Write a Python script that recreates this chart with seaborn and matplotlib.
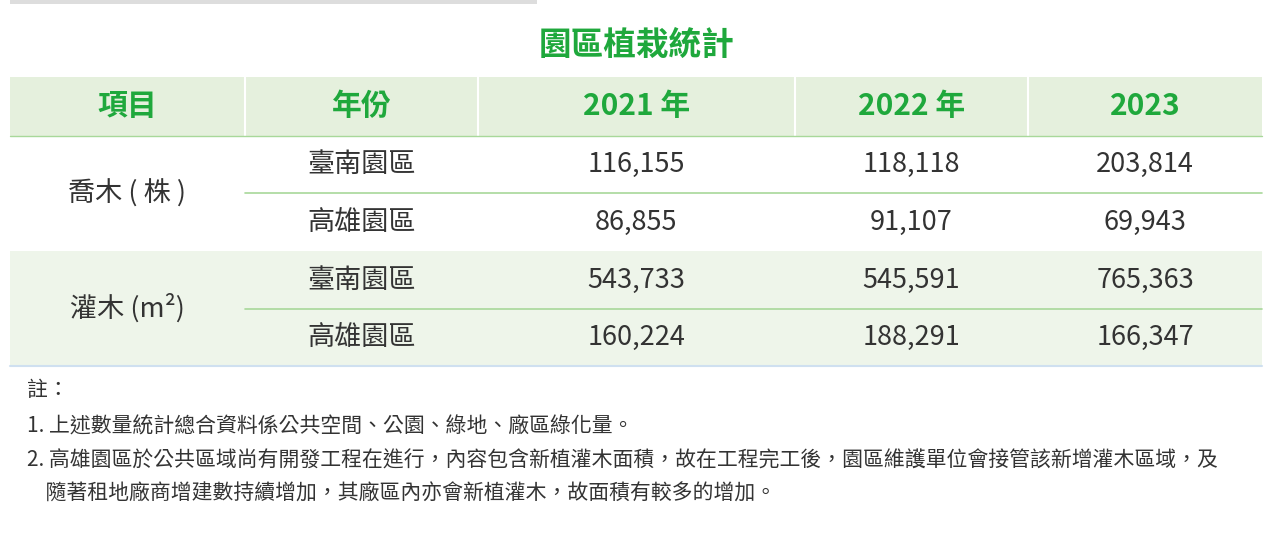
import matplotlib.pyplot as plt
import seaborn as sns
from matplotlib.patches import Rectangle

sns.set_theme(style="white")
plt.rcParams['font.family'] = ['Noto Sans CJK TC', 'DejaVu Sans']

title = "園區植栽統計"
headers = ["項目", "年份", "2021 年", "2022 年", "2023"]
categories = ["喬木 ( 株 )", "灌木 (m²)"]
parks = ["臺南園區", "高雄園區"]
values_2021 = ["116,155", "86,855", "543,733", "160,224"]
values_2022 = ["118,118", "91,107", "545,591", "188,291"]
values_2023 = ["203,814", "69,943", "765,363", "166,347"]
notes = [
    "註：",
    "1. 上述數量統計總合資料係公共空間、公園、綠地、廠區綠化量。",
    "2. 高雄園區於公共區域尚有開發工程在進行，內容包含新植灌木面積，故在工程完工後，園區維護單位會接管該新增灌木區域，及",
    "    隨著租地廠商增建數持續增加，其廠區內亦會新植灌木，故面積有較多的增加。",
]

green = "#1fa83c"
hdr_bg = "#e5f0dd"
alt_bg = "#eef5ea"
txt = "#333333"

fig = plt.figure(figsize=(12.8, 5.39), dpi=100)
ax = fig.add_axes([0, 0, 1, 1])
ax.set_xlim(0, 1280)
ax.set_ylim(539, 0)
ax.axis("off")

ax.add_patch(Rectangle((10, 0), 527, 4, color="#dddddd", lw=0))
ax.text(637, 45, title, color=green, fontsize=23.5, fontweight="bold", ha="center", va="center")

col_edges = [10, 245, 478, 795, 1028, 1262]
col_centers = [(a + b) / 2 for a, b in zip(col_edges[:-1], col_edges[1:])]

ax.add_patch(Rectangle((10, 77), 1252, 59, color=hdr_bg, lw=0))
for x in col_edges[1:-1]:
    ax.plot([x, x], [77, 136], color="white", lw=1.5)
for cx, h in zip(col_centers, headers):
    ax.text(cx, 106, h, color=green, fontsize=21.5, fontweight="bold", ha="center", va="center")

row_tops = [136, 193, 251, 309, 366]
ax.add_patch(Rectangle((10, 251), 1252, 115, color=alt_bg, lw=0))
ax.plot([10, 1262], [136, 136], color="#a8d89a", lw=1)
for y in (193, 309):
    ax.plot([245, 1262], [y, y], color="#a8d89a", lw=1.2)
ax.plot([10, 1262], [366, 366], color="#cfe0f0", lw=1.5)

for i, cat in enumerate(categories):
    ax.text(col_centers[0], (row_tops[2 * i] + row_tops[2 * i + 2]) / 2, cat,
            color=txt, fontsize=19.5, ha="center", va="center")
for r in range(4):
    yc = (row_tops[r] + row_tops[r + 1]) / 2
    row = [parks[r % 2], values_2021[r], values_2022[r], values_2023[r]]
    for cx, v in zip(col_centers[1:], row):
        ax.text(cx, yc, v, color=txt, fontsize=19.5, ha="center", va="center")

for y, n in zip([390, 427, 461, 494], notes):
    ax.text(27, y, n, color=txt, fontsize=15, ha="left", va="center")

fig.savefig("out.png", dpi=100)
